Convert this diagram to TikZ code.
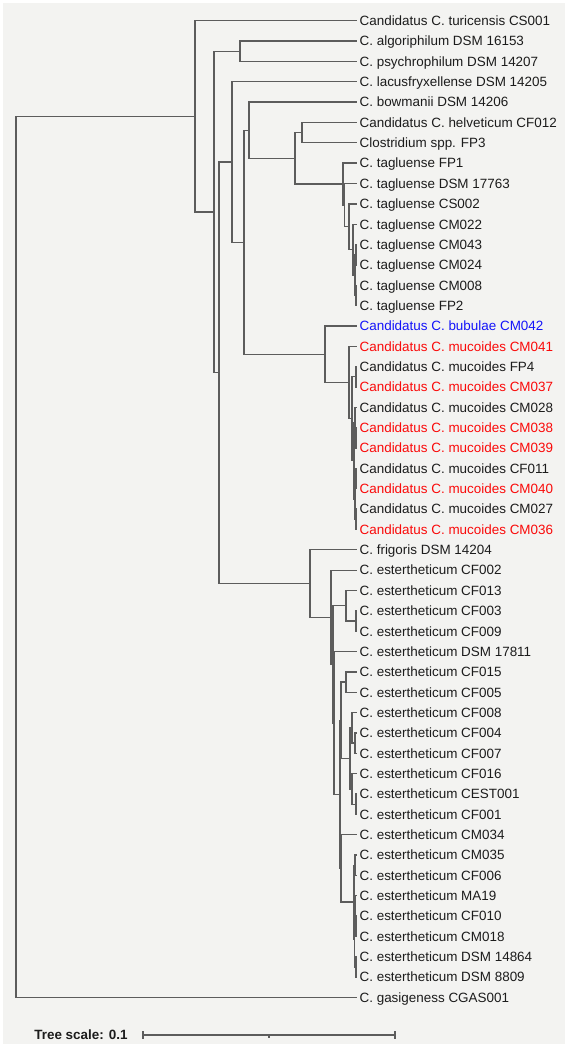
\documentclass[tikz,border=0pt]{standalone}
\usepackage{fontspec}
\setmainfont{Liberation Sans}
\definecolor{bgc}{RGB}{243,243,241}
\definecolor{brc}{RGB}{92,92,92}
\definecolor{txc}{RGB}{28,28,28}
\definecolor{mucred}{RGB}{250,10,10}
\definecolor{bubblue}{RGB}{20,20,250}

\begin{document}
\begin{tikzpicture}[x=0.02cm,y=-0.02cm,
  br/.style={draw=brc,line width=0.75pt},
  leaf/.style={anchor=west,inner xsep=1.3pt,inner ysep=0pt,text height=5.5pt,text depth=0pt,
    font=\fontsize{7.65}{9}\selectfont},
  scalebar/.style={draw=brc,line width=0.7pt}]
\fill[white] (0,0) rectangle (567,1049);
\fill[bgc] (3,3) rectangle (565,1044);
% leaves, top to bottom
\foreach \t/\c [count=\i] in {Candidatus C. turicensis CS001/txc,C. algoriphilum DSM 16153/txc,
  C. psychrophilum DSM 14207/txc,C. lacusfryxellense DSM 14205/txc,C. bowmanii DSM 14206/txc,
  Candidatus C. helveticum CF012/txc,Clostridium spp. FP3/txc,C. tagluense FP1/txc,
  C. tagluense DSM 17763/txc,C. tagluense CS002/txc,C. tagluense CM022/txc,C. tagluense CM043/txc,
  C. tagluense CM024/txc,C. tagluense CM008/txc,C. tagluense FP2/txc,
  Candidatus C. bubulae CM042/bubblue,Candidatus C. mucoides CM041/mucred,
  Candidatus C. mucoides FP4/txc,Candidatus C. mucoides CM037/mucred,
  Candidatus C. mucoides CM028/txc,Candidatus C. mucoides CM038/mucred,
  Candidatus C. mucoides CM039/mucred,Candidatus C. mucoides CF011/txc,
  Candidatus C. mucoides CM040/mucred,Candidatus C. mucoides CM027/txc,
  Candidatus C. mucoides CM036/mucred,C. frigoris DSM 14204/txc,
  C. estertheticum CF002/txc,C. estertheticum CF013/txc,C. estertheticum CF003/txc,
  C. estertheticum CF009/txc,C. estertheticum DSM 17811/txc,C. estertheticum CF015/txc,
  C. estertheticum CF005/txc,C. estertheticum CF008/txc,C. estertheticum CF004/txc,
  C. estertheticum CF007/txc,C. estertheticum CF016/txc,C. estertheticum CEST001/txc,
  C. estertheticum CF001/txc,C. estertheticum CM034/txc,C. estertheticum CM035/txc,
  C. estertheticum CF006/txc,C. estertheticum MA19/txc,C. estertheticum CF010/txc,
  C. estertheticum CM018/txc,C. estertheticum DSM 14864/txc,C. estertheticum DSM 8809/txc,
  C. gasigeness CGAS001/txc}
  \node[leaf,text=\c] (L\i) at (357,{20.7+(\i-1)*20.35}) {\t};
% inner nodes
\coordinate (R) at (16,556.9); \coordinate (A) at (195,116.35); \coordinate (B) at (214,211.99);
\coordinate (P) at (240,51.23); \coordinate (C) at (219,372.76); \coordinate (D) at (232,162);
\coordinate (E) at (244,242.25); \coordinate (F) at (249,130.24); \coordinate (G) at (295,158.38);
\coordinate (H) at (302,132.63);
\coordinate (T0) at (343,184.14); \coordinate (T1) at (344.5,205.13); \coordinate (T2) at (349,226.75);
\coordinate (T3) at (353,249.64); \coordinate (T4) at (355,275.08); \coordinate (T5) at (356,254.73);
\coordinate (T6) at (356,295.43);
\coordinate (M) at (325,354.25); \coordinate (M0) at (349,382.55); \coordinate (M1) at (352,418.8);
\coordinate (M2) at (356,376.83); \coordinate (M3) at (354,460.77); \coordinate (M4) at (355,422.61);
\coordinate (M5) at (356,437.88); \coordinate (M6) at (355,498.93); \coordinate (M7) at (356,478.58);
\coordinate (M8) at (356,519.28);
\coordinate (S0) at (310,583.52); \coordinate (S1) at (331,617.25); \coordinate (S2) at (333,664.35);
\coordinate (S3) at (346,605.77); \coordinate (S4) at (356,621.03); \coordinate (S5) at (334,722.94);
\coordinate (S6) at (341,720.24); \coordinate (S7) at (340,794.32); \coordinate (S8) at (350,758.4);
\coordinate (S9) at (352,727.87); \coordinate (S10) at (355,743.13); \coordinate (S11) at (352,788.92);
\coordinate (S12) at (356,804.18); \coordinate (S13) at (346,682.08); \coordinate (S14) at (341,868.4);
\coordinate (S15) at (354,902.11); \coordinate (S16) at (355,865.23); \coordinate (S17) at (354.5,939);
\coordinate (S18) at (355,911.01); \coordinate (S19) at (356,926.28); \coordinate (S20) at (356,966.98);
% branches
\foreach \p/\c in {R/A,R/L49,A/L1,A/B,B/P,B/C,P/L2,P/L3,C/D,C/S0,D/L4,D/E,E/F,E/M,F/L5,F/G,
  G/H,G/T0,H/L6,H/L7,T0/L8,T0/T1,T1/L9,T1/T2,T2/L10,T2/T3,T3/L11,T3/T4,T4/T5,T4/T6,
  T5/L12,T5/L13,T6/L14,T6/L15,M/L16,M/M0,M0/L17,M0/M1,M1/M2,M1/M3,M2/L18,M2/L19,
  M3/M4,M3/M6,M4/L20,M4/M5,M5/L21,M5/L22,M6/M7,M6/M8,M7/L23,M7/L24,M8/L25,M8/L26,
  S0/L27,S0/S1,S1/L28,S1/S2,S2/S3,S2/S5,S3/L29,S3/S4,S4/L30,S4/L31,S5/L32,S5/S7,
  S7/S6,S7/S14,S6/S13,S6/S8,S13/L33,S13/L34,S8/S9,S8/S11,S9/L35,S9/S10,S10/L36,S10/L37,
  S11/L38,S11/S12,S12/L39,S12/L40,S14/L41,S14/S15,S15/S16,S15/S17,S16/L42,S16/L43,
  S17/S18,S17/S20,S18/L44,S18/S19,S19/L45,S19/L46,S20/L47,S20/L48}
  \draw[br] (\p) |- (\c);
% scale
\node[anchor=west,inner sep=0pt,text=txc,font=\bfseries\fontsize{7.65}{9}\selectfont] (TS) at (34,1035) {Tree scale: 0.1};
\draw[scalebar] (143,1035) -- (395,1035);
\draw[scalebar] (143,1031) -- (143,1039); \draw[scalebar] (395,1031) -- (395,1039);
\draw[scalebar] (269,1035) -- (269,1038);
\end{tikzpicture}
\end{document}
